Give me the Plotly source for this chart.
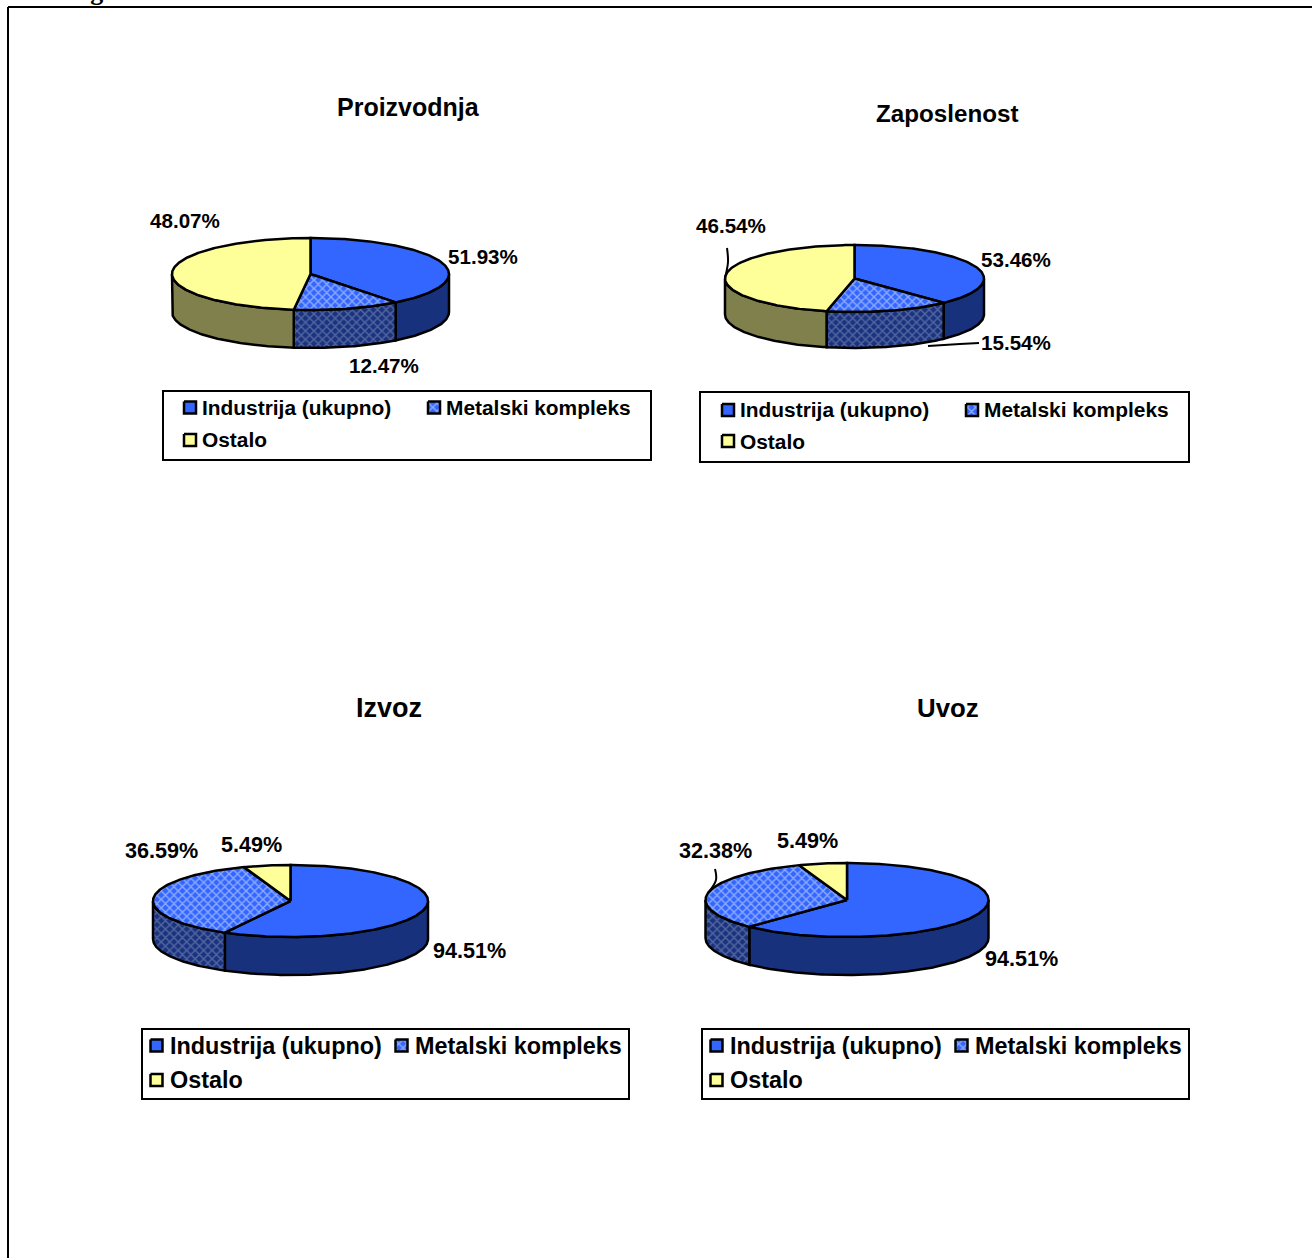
import math
import plotly.graph_objects as go

# ---- data (values as printed on the chart) ----
categories = ["Industrija (ukupno)", "Metalski kompleks", "Ostalo"]
titles = ["Proizvodnja", "Zaposlenost", "Izvoz", "Uvoz"]
proizvodnja = [51.93, 12.47, 48.07]
zaposlenost = [53.46, 15.54, 46.54]
izvoz = [94.51, 36.59, 5.49]
uvoz = [94.51, 32.38, 5.49]
all_values = [proizvodnja, zaposlenost, izvoz, uvoz]

# ---- layout of each panel (pixels) ----
FONT = "Liberation Sans"
W, H = 1312, 1258
panels = [
    dict(cx=310.5, cy=274, rx=138.5, ry=36, depth=38, title=(408, 107, 25),
         labels=[(483, 256), (384, 365), (185, 220)], lab_size=20.6,
         box=(163, 391, 651, 460), sw=[(190, 407.5), (434, 407.5), (190, 440)],
         tx=[200, 444, 200], ty=[407, 407, 439], leg_size=20.9),
    dict(cx=854.5, cy=278.5, rx=129.5, ry=33.5, depth=36, title=(947, 113, 24.2),
         labels=[(1016, 259), (1016, 342), (731, 225)], lab_size=20.6,
         box=(700, 392, 1189, 462), sw=[(728, 410), (972, 410), (728, 441)],
         tx=[738, 982, 738], ty=[409, 409, 441], leg_size=20.9),
    dict(cx=290.5, cy=901, rx=137.5, ry=36, depth=38, title=(389, 708, 27),
         labels=[(469, 950), (161, 850), (251, 844)], lab_size=21.6,
         box=(142, 1029, 629, 1099), sw=[(156.5, 1045.5), (401.5, 1045.5), (156.5, 1080)],
         tx=[168, 413, 168], ty=[1046, 1046, 1080], leg_size=23.4),
    dict(cx=847, cy=900, rx=141.5, ry=37, depth=38, title=(947.5, 708, 25.8),
         labels=[(1021, 958), (715, 850), (807, 840)], lab_size=21.6,
         box=(702, 1029, 1189, 1099), sw=[(716.5, 1045.5), (961.5, 1045.5), (716.5, 1080)],
         tx=[728, 973, 728], ty=[1046, 1046, 1080], leg_size=23.4),
]
leaders = [
    [(725, 278), (728, 262), (727, 248)],
    [(928, 346), (960, 344), (979, 343)],
    [(708, 893), (716, 880), (715, 869)],
]

top_fill = ["#3366FF", "#3366FF", "#FFFF99"]
side_fill = ["#17317D", "#1C3480", "#80804D"]
pat_top = dict(shape="x", bgcolor="#3366FF", fgcolor="#E6EDFF", size=6, solidity=0.42)
pat_side = dict(shape="x", bgcolor="#1A337F", fgcolor="#8D99BF", size=6, solidity=0.42)
EDGE = 2.5


def arc(p, a, b, dy=0.0):
    n = max(2, int(abs(b - a) * 1.2))
    ts = [a + (b - a) * i / n for i in range(n + 1)]
    return ([p["cx"] + p["rx"] * math.sin(math.radians(t)) for t in ts],
            [p["cy"] + dy - p["ry"] * math.cos(math.radians(t)) for t in ts])


fig = go.Figure()
annotations = []
shapes = []


def add_poly(xs, ys, name, color, pattern=None, width=EDGE):
    kw = dict(fillpattern=pattern) if pattern else {}
    fig.add_trace(go.Scatter(x=xs, y=ys, mode="lines", fill="toself", fillcolor=color,
                             line=dict(color="black", width=width), name=name,
                             showlegend=False, hoverinfo="name", **kw))


def text(x, y, s, size, anchor="center", color="black"):
    annotations.append(dict(x=x, y=y, xref="x", yref="y", text=f"<b>{s}</b>", showarrow=False,
                            xanchor=anchor, yanchor="middle",
                            font=dict(family=FONT, size=size, color=color)))


# outer frame (top and left edges only reach the picture borders)
shapes.append(dict(type="line", x0=8, y0=7, x1=W, y1=7, line=dict(color="black", width=2)))
shapes.append(dict(type="line", x0=8, y0=7, x1=8, y1=H, line=dict(color="black", width=2)))
annotations.append(dict(x=20, y=1, xref="x", yref="y", text="<b>Messaged</b>", showarrow=False,
                        xanchor="left", yanchor="bottom", yshift=-6, borderpad=0,
                        font=dict(family="Liberation Serif", size=26, color="black")))

for vals, p, title in zip(all_values, panels, titles):
    industry, metal, other = vals
    shares = [industry - metal, metal, other]
    text(p["title"][0], p["title"][1], title, p["title"][2])

    # cumulative angles, clockwise from twelve o'clock
    edges = [0.0]
    for s in shares:
        edges.append(edges[-1] + s * 3.6)

    # side walls: only the front half of the rim is visible
    for i in range(3):
        a, b = max(edges[i], 90), min(edges[i + 1], 270)
        if b > a:
            x1, y1 = arc(p, a, b)
            x2, y2 = arc(p, a, b, p["depth"])
            add_poly(x1 + x2[::-1] + x1[:1], y1 + y2[::-1] + y1[:1], categories[i], side_fill[i],
                     pat_side if i == 1 else None)

    # top faces
    for i in range(3):
        xs, ys = arc(p, edges[i], edges[i + 1])
        add_poly([p["cx"]] + xs + [p["cx"]], [p["cy"]] + ys + [p["cy"]], categories[i], top_fill[i],
                 pat_top if i == 1 else None)

    # value labels
    for v, (lx, ly) in zip(vals, p["labels"]):
        text(lx, ly, f"{v:.2f}%", p["lab_size"])

    # legend box, swatches and entries
    x0, y0, x1, y1 = p["box"]
    shapes.append(dict(type="rect", x0=x0, y0=y0, x1=x1, y1=y1, line=dict(color="black", width=2),
                       fillcolor="white", layer="below"))
    for i, (sx, sy) in enumerate(p["sw"]):
        r = 6
        add_poly([sx - r, sx + r, sx + r, sx - r, sx - r], [sy - r, sy - r, sy + r, sy + r, sy - r],
                 categories[i], top_fill[i], pat_top if i == 1 else None)
        text(p["tx"][i], p["ty"][i], categories[i], p["leg_size"], anchor="left")

# leader lines
for pts in leaders:
    fig.add_trace(go.Scatter(x=[q[0] for q in pts], y=[q[1] for q in pts], mode="lines",
                             line=dict(color="black", width=2, shape="spline"),
                             showlegend=False, hoverinfo="skip"))

fig.update_layout(
    width=W, height=H, margin=dict(l=0, r=0, t=0, b=0), autosize=False,
    paper_bgcolor="white", plot_bgcolor="white", showlegend=False,
    xaxis=dict(range=[0, W], visible=False, fixedrange=True),
    yaxis=dict(range=[H, 0], visible=False, fixedrange=True),
    annotations=annotations, shapes=shapes,
)
fig.write_html("out.html", config=dict(displayModeBar=False),
               post_script="document.body.style.margin='0';document.documentElement.style.overflow='hidden';")
